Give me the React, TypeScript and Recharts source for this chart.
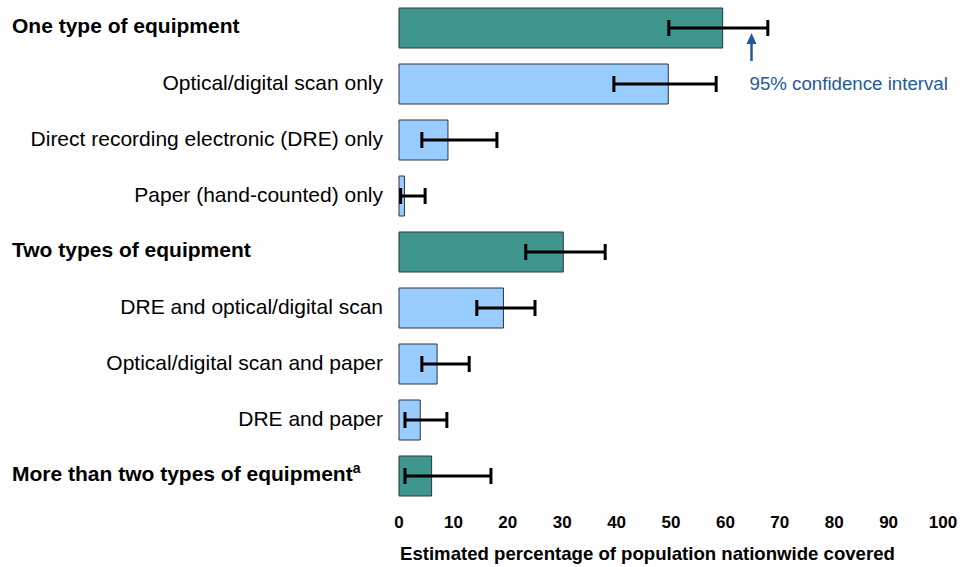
import React from 'react';
import { BarChart, Bar, XAxis, YAxis, ErrorBar, Cell, ReferenceDot } from 'recharts';

const categories = [
  'One type of equipment',
  'Optical/digital scan only',
  'Direct recording electronic (DRE) only',
  'Paper (hand-counted) only',
  'Two types of equipment',
  'DRE and optical/digital scan',
  'Optical/digital scan and paper',
  'DRE and paper',
  'More than two types of equipment',
];
const isGroup = [true, false, false, false, true, false, false, false, true];
const values = [59.5, 49.5, 9, 1, 30.2, 19.2, 7, 3.9, 6];
const lows = [49.6, 39.5, 4.2, 0.3, 23.3, 14.3, 4.2, 1.1, 1.1];
const highs = [67.8, 58.3, 18, 4.8, 37.9, 25, 12.9, 8.8, 16.9];
const xTicks = [0, 10, 20, 30, 40, 50, 60, 70, 80, 90, 100];

const TEAL = '#3f968e';
const LIGHT = '#99ccff';
const BLUE = '#1f5a9a';
const FONT = '"Liberation Sans", Arial, sans-serif';

const data = categories.map((name, i) => ({
  name,
  value: values[i],
  err: [values[i] - lows[i], highs[i] - values[i]],
  group: isGroup[i],
}));

const YTick = (props: any) => {
  const { x, y, payload } = props;
  const idx = categories.indexOf(payload.value);
  const group = isGroup[idx];
  const sup = idx === categories.length - 1;
  if (group) {
    return (
      <text x={12} y={y} dy={5} textAnchor="start" fontFamily={FONT} fontSize={21} fontWeight="bold" fill="#000">
        {payload.value}
        {sup ? (
          <tspan dy={-8} fontSize={14}>a</tspan>
        ) : null}
      </text>
    );
  }
  return (
    <text x={x} y={y} dy={6} textAnchor="end" fontFamily={FONT} fontSize={21} fill="#000">
      {payload.value}
    </text>
  );
};

const XTitle = (props: any) => {
  const vb = props.viewBox || {};
  return (
    <text x={vb.x + 1} y={vb.y + 56} textAnchor="start" fontFamily={FONT} fontSize={18.6} fontWeight="bold" fill="#000">
      Estimated percentage of population nationwide covered
    </text>
  );
};

const Annotation = (props: any) => {
  const { cx, cy } = props;
  if (cx == null || cy == null) return null;
  return (
    <g>
      <line x1={cx} y1={cy - 23} x2={cx} y2={cy - 42} stroke={BLUE} strokeWidth={2.5} />
      <polygon points={`${cx - 5},${cy - 40} ${cx + 5},${cy - 40} ${cx},${cy - 51}`} fill={BLUE} />
      <text x={cx - 2} y={cy + 6} textAnchor="start" fontFamily={FONT} fontSize={18.7} fill={BLUE}>
        95% confidence interval
      </text>
    </g>
  );
};

export default function App() {
  return (
    <div style={{ position: 'absolute', left: 0, top: 0, width: 980, height: 567, background: '#fff' }}>
      <BarChart
        width={980}
        height={567}
        data={data}
        layout="vertical"
        margin={{ top: 0, right: 37, left: 0, bottom: 0 }}
        barSize={40}
      >
        <XAxis
          type="number"
          domain={[0, 100]}
          ticks={xTicks}
          axisLine={false}
          tickLine={false}
          tickSize={6}
          tickMargin={6}
          height={63}
          interval={0}
          tick={{ fontFamily: FONT, fontSize: 17, fontWeight: 'bold', fill: '#000' }}
          label={{ content: XTitle }}
        />
        <YAxis
          type="category"
          dataKey="name"
          width={399}
          axisLine={false}
          tickLine={false}
          tickSize={6}
          tickMargin={10}
          interval={0}
          tick={<YTick />}
        />
        <Bar dataKey="value" stroke="#2a3340" strokeWidth={1} isAnimationActive={false}>
          {data.map((d, i) => (
            <Cell key={i} fill={d.group ? TEAL : LIGHT} />
          ))}
          <ErrorBar dataKey="err" direction="x" width={8} stroke="#000" strokeWidth={3} isAnimationActive={false} />
        </Bar>
        <ReferenceDot
          x={64.8}
          y={categories[1]}
          ifOverflow="visible"
          shape={<Annotation />}
        />
      </BarChart>
    </div>
  );
}
